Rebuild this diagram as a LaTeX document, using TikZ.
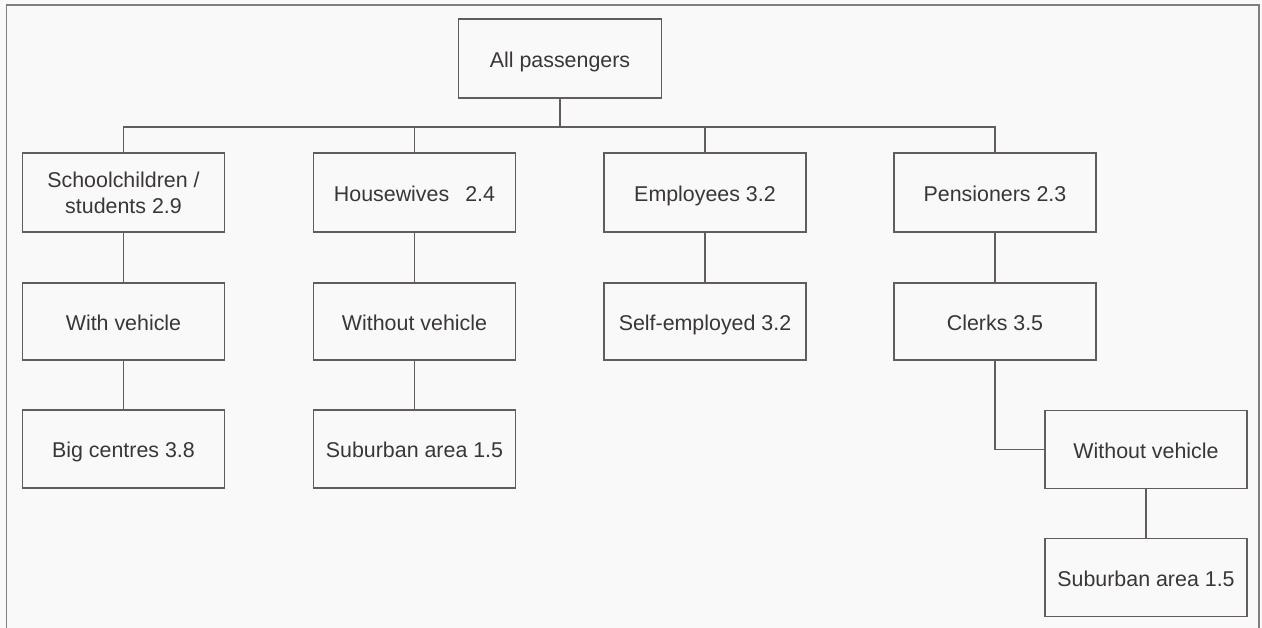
\documentclass[tikz,border=0pt]{standalone}
\usepackage{fontspec}
\setmainfont{Liberation Sans}
\definecolor{bgc}{RGB}{249,249,249}
\definecolor{linec}{RGB}{98,92,97}
\definecolor{textc}{RGB}{58,53,57}
\begin{document}
\begin{tikzpicture}[x=1pt,y=-1pt,
  box/.style={draw=linec, line width=1.7pt, minimum width=202pt, inner sep=0pt,
    text=textc, align=center, font=\fontsize{21.4}{26}\selectfont},
  one/.style={text height=18pt, text depth=0.6pt},
  lev1/.style={box, minimum height=79pt},
  lev2/.style={box, minimum height=77pt},
  lev3/.style={box, minimum height=78pt},
  conn/.style={draw=linec, line width=1.7pt},
  frame/.style={draw=linec!80, line width=1.7pt}]
\useasboundingbox (0,0) rectangle (1262,628);
\fill[bgc] (0,0) rectangle (1262,628);
\draw[frame] (6.5,628) -- (6.5,5) -- (1259,5) -- (1259,628);

\node[lev1, one, minimum width=203pt] (all) at (560,58.5) {All passengers};
\coordinate (bus) at (0,127);

\node[lev1] (s1) at (123.5,192.5) {Schoolchildren /\\students 2.9};
\node[lev1, one] (h1) at (414.5,192.5) {Housewives\hspace{0.75em}2.4};
\node[lev1, one] (e1) at (705,192.5) {Employees 3.2};
\node[lev1, one] (p1) at (995,192.5) {Pensioners 2.3};

\node[lev2, one] (s2) at (123.5,321.5) {With vehicle};
\node[lev2, one] (h2) at (414.5,321.5) {Without vehicle};
\node[lev2, one] (e2) at (705,321.5) {Self-employed 3.2};
\node[lev2, one] (p2) at (995,321.5) {Clerks 3.5};

\node[lev3, one] (s3) at (123.5,449) {Big centres 3.8};
\node[lev3, one] (h3) at (414.5,449) {Suburban area 1.5};

\node[lev3, one] (rw) at (1146,449.5) {Without vehicle};
\node[lev3, one] (rs) at (1146,577.5) {Suburban area 1.5};

\draw[conn] (all.south) -- (all.south |- bus);
\draw[conn] (s1.north) |- (p1.north |- bus) -- (p1.north);
\draw[conn] (h1.north) -- (h1.north |- bus);
\draw[conn] (e1.north) -- (e1.north |- bus);

\draw[conn] (s1.south) -- (s2.north);
\draw[conn] (h1.south) -- (h2.north);
\draw[conn] (e1.south) -- (e2.north);
\draw[conn] (p1.south) -- (p2.north);

\draw[conn] (s2.south) -- (s3.north);
\draw[conn] (h2.south) -- (h3.north);
\draw[conn] (p2.south) |- (rw.west);
\draw[conn] (rw.south) -- (rs.north);
\end{tikzpicture}
\end{document}
